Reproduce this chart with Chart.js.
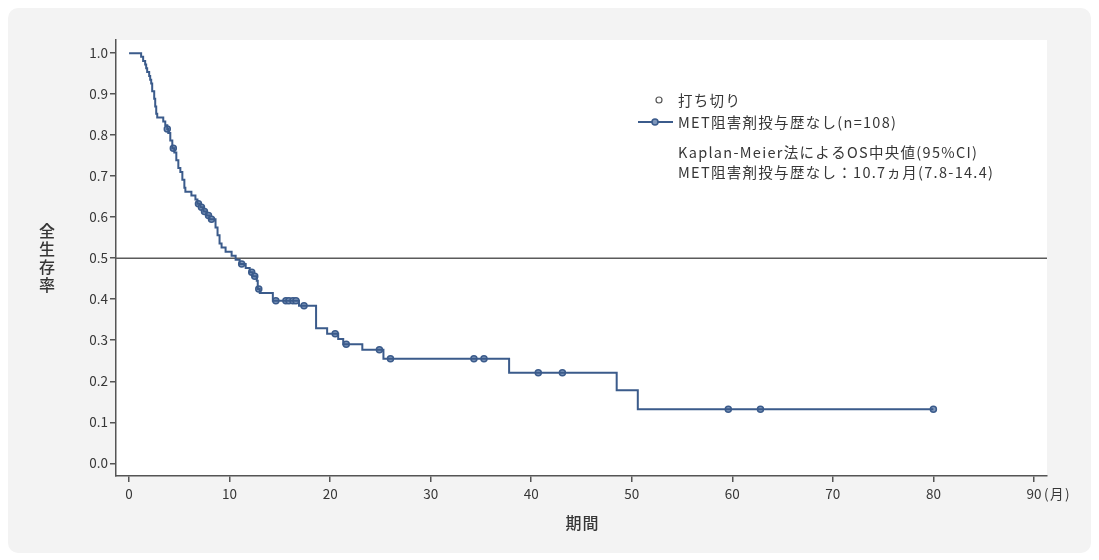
<!DOCTYPE html>
<html>
<head>
<meta charset="utf-8">
<script src="https://cdn.jsdelivr.net/npm/chart.js@4"></script>
<style>
  html, body { margin: 0; padding: 0; background: #ffffff; }
  #panel { position: absolute; left: 8px; top: 8px; width: 1083px; height: 545px; background: #f3f3f3; border-radius: 10px; }
  #kmChart { position: absolute; left: 0; top: 0; }
</style>
</head>
<body>
<div id="panel"></div>
<canvas id="kmChart" width="1099" height="560"></canvas>
<script>
// Kaplan-Meier step data (time in months, survival after the drop)
const kmTime = [0, 1.1, 1.2, 1.4, 1.6, 1.7, 1.8, 2.0, 2.1, 2.2, 2.3, 2.5, 2.6, 2.7, 2.8, 3.4, 3.6, 3.8, 3.9, 4.1, 4.3,
  4.5, 4.7, 4.9, 5.1, 5.3, 5.5, 5.6, 6.2, 6.6, 6.8, 7.1, 7.4, 7.7, 8.0, 8.6, 8.8, 9.0, 9.2, 9.6, 10.2, 10.6, 11.0,
  11.6, 12.0, 12.3, 12.7, 12.8, 13.0, 14.3, 16.9, 18.6, 19.7, 20.8, 21.3, 23.2, 25.3, 37.8, 48.5, 50.6, 80.0];
const kmSurv = [1.0, 1.0, 0.991, 0.981, 0.972, 0.963, 0.954, 0.944, 0.935, 0.926, 0.907, 0.889, 0.870, 0.852, 0.843,
  0.833, 0.824, 0.815, 0.805, 0.787, 0.768, 0.758, 0.739, 0.720, 0.710, 0.691, 0.672, 0.662, 0.653, 0.643, 0.633,
  0.624, 0.614, 0.604, 0.595, 0.575, 0.556, 0.536, 0.526, 0.516, 0.506, 0.496, 0.486, 0.476, 0.466, 0.456, 0.445,
  0.425, 0.415, 0.396, 0.384, 0.329, 0.316, 0.303, 0.290, 0.277, 0.255, 0.221, 0.178, 0.132, 0.132];

// censored observations
const censorTime = [3.8, 4.4, 6.9, 7.2, 7.5, 7.9, 8.2, 11.2, 12.2, 12.5, 12.9, 14.6, 15.6, 15.9, 16.3, 16.6, 17.4,
  20.5, 21.6, 24.9, 26.0, 34.3, 35.3, 40.7, 43.1, 59.6, 62.8, 80.0];
const censorSurv = [0.815, 0.768, 0.633, 0.624, 0.614, 0.604, 0.595, 0.486, 0.466, 0.456, 0.425, 0.396, 0.396, 0.396,
  0.396, 0.396, 0.384, 0.316, 0.290, 0.277, 0.255, 0.255, 0.255, 0.221, 0.221, 0.132, 0.132, 0.132];

const xTicks = [0, 10, 20, 30, 40, 50, 60, 70, 80, 90];
const yTicks = [0, 0.1, 0.2, 0.3, 0.4, 0.5, 0.6, 0.7, 0.8, 0.9, 1.0];
const medianLine = 0.5;

const legendCensor = '打ち切り';
const legendSeries = 'MET阻害剤投与歴なし(n=108)';
const noteLines = ['Kaplan-Meier法によるOS中央値(95%CI)', 'MET阻害剤投与歴なし：10.7ヵ月(7.8-14.4)'];
const xTitle = '期間';
const yTitle = '全生存率';
const xUnit = '(月)';

const FONT = "'Noto Sans CJK JP', 'Noto Sans', sans-serif";
const lineColor = '#3b5b8b';
const markFill = '#7f97bb';
const axisColor = '#555555';
const textColor = '#363636';

const kmPlugin = {
  id: 'kmExtras',
  beforeDraw(chart) {
    const a = chart.chartArea;
    const ctx = chart.ctx;
    ctx.save();
    ctx.fillStyle = '#ffffff';
    ctx.fillRect(a.left, a.top, a.right - a.left, a.bottom - a.top);
    ctx.restore();
  },
  beforeDatasetsDraw(chart) {
    const a = chart.chartArea;
    const ctx = chart.ctx;
    const y = chart.scales.y.getPixelForValue(medianLine);
    ctx.save();
    ctx.strokeStyle = '#5a5a5a';
    ctx.lineWidth = 1.5;
    ctx.beginPath();
    ctx.moveTo(a.left, y);
    ctx.lineTo(a.right, y);
    ctx.stroke();
    ctx.restore();
  },
  afterDraw(chart) {
    const a = chart.chartArea;
    const ctx = chart.ctx;
    ctx.save();
    ctx.fillStyle = textColor;
    ctx.textBaseline = 'middle';

    // y title, stacked characters
    ctx.font = '500 16px ' + FONT;
    ctx.textAlign = 'center';
    const cy = (a.top + a.bottom) / 2;
    const chars = Array.from(yTitle);
    const step = 18;
    chars.forEach((c, i) => {
      ctx.fillText(c, 47, cy + (i - (chars.length - 1) / 2) * step);
    });

    // x title
    ctx.letterSpacing = '1px';
    ctx.fillText(xTitle, (a.left + a.right) / 2 + 1, 523);

    // unit after last x tick
    ctx.font = '13.5px ' + FONT;
    ctx.letterSpacing = '1.5px';
    ctx.textAlign = 'left';
    const xs = chart.scales.x;
    ctx.fillText(xUnit, xs.getPixelForValue(90) + 10, 494);

    // legend
    ctx.font = '14.5px ' + FONT;
    ctx.letterSpacing = '1.3px';
    ctx.strokeStyle = axisColor;
    ctx.lineWidth = 1.2;
    ctx.beginPath();
    ctx.arc(659, 100, 3, 0, Math.PI * 2);
    ctx.stroke();
    ctx.fillText(legendCensor, 678, 100);

    ctx.strokeStyle = lineColor;
    ctx.lineWidth = 2;
    ctx.beginPath();
    ctx.moveTo(638, 122);
    ctx.lineTo(673, 122);
    ctx.stroke();
    ctx.fillStyle = markFill;
    ctx.beginPath();
    ctx.arc(655, 122, 3, 0, Math.PI * 2);
    ctx.fill();
    ctx.lineWidth = 1.5;
    ctx.stroke();
    ctx.fillStyle = textColor;
    ctx.fillText(legendSeries, 678, 122);

    ctx.fillText(noteLines[0], 678, 152);
    ctx.fillText(noteLines[1], 678, 172);
    ctx.restore();
  }
};

const ctx = document.getElementById('kmChart').getContext('2d');

new Chart(ctx, {
  type: 'line',
  data: {
    datasets: [{
      label: legendSeries,
      data: kmTime.map((t, i) => ({ x: t, y: kmSurv[i] })),
      borderColor: lineColor,
      borderWidth: 2,
      stepped: 'before',
      pointRadius: 0,
      fill: false
    }, {
      label: legendCensor,
      data: censorTime.map((t, i) => ({ x: t, y: censorSurv[i] })),
      showLine: false,
      pointStyle: 'circle',
      pointRadius: 3,
      pointBorderWidth: 1.5,
      pointBorderColor: lineColor,
      pointBackgroundColor: markFill
    }]
  },
  options: {
    responsive: false,
    animation: false,
    layout: {
      padding: { top: 40, right: 52, bottom: 0, left: 0 }
    },
    plugins: {
      legend: { display: false },
      tooltip: { enabled: false }
    },
    scales: {
      x: {
        type: 'linear',
        min: -1.3,
        max: 91.3,
        afterBuildTicks: axis => { axis.ticks = xTicks.map(v => ({ value: v })); },
        afterFit: scale => { scale.height = 84; },
        border: { display: true, color: axisColor, width: 1.5 },
        grid: { drawOnChartArea: false, drawTicks: true, tickLength: 6, color: axisColor, lineWidth: 1.5 },
        ticks: {
          color: textColor,
          padding: 4,
          maxRotation: 0,
          font: { family: FONT, size: 13.5 },
          callback: v => String(v)
        }
      },
      y: {
        min: -0.031,
        max: 1.032,
        afterBuildTicks: axis => { axis.ticks = yTicks.map(v => ({ value: v })); },
        afterFit: scale => { scale.width = 116; },
        border: { display: true, color: axisColor, width: 1.5 },
        grid: { drawOnChartArea: false, drawTicks: true, tickLength: 6, color: axisColor, lineWidth: 1.5 },
        ticks: {
          color: textColor,
          padding: 2,
          font: { family: FONT, size: 13.5 },
          callback: v => Number(v).toFixed(1)
        }
      }
    }
  },
  plugins: [kmPlugin]
});
</script>
</body>
</html>
